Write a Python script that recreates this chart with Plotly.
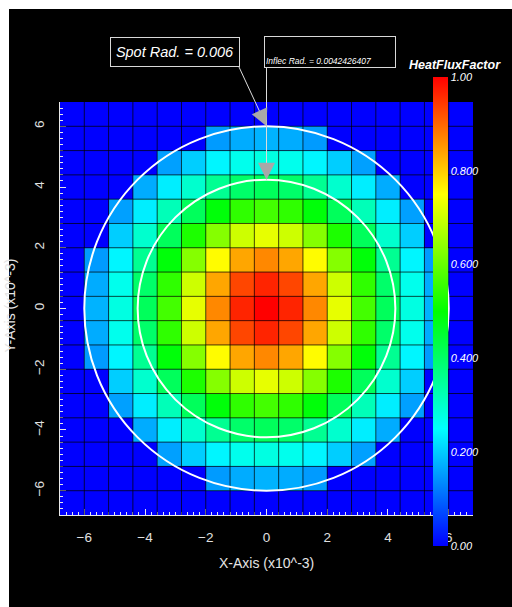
import plotly.graph_objects as go

# ---------------- data ----------------
x_centers = [-6.4, -5.6, -4.8, -4.0, -3.2, -2.4, -1.6, -0.8, 0.0, 0.8, 1.6, 2.4, 3.2, 4.0, 4.8, 5.6, 6.4]
y_centers = [-6.4, -5.6, -4.8, -4.0, -3.2, -2.4, -1.6, -0.8, 0.0, 0.8, 1.6, 2.4, 3.2, 4.0, 4.8, 5.6, 6.4]

row_0 = [0, 0.175, 0.278, 0.411, 0.566, 0.726, 0.867, 0.965, 1.000, 0.965, 0.867, 0.726, 0.566, 0.411, 0.278, 0.175, 0]
row_1 = [0, 0.169, 0.268, 0.397, 0.546, 0.701, 0.837, 0.931, 0.965, 0.931, 0.837, 0.701, 0.546, 0.397, 0.268, 0.169, 0]
row_2 = [0, 0.152, 0.241, 0.357, 0.491, 0.630, 0.753, 0.837, 0.867, 0.837, 0.753, 0.630, 0.491, 0.357, 0.241, 0.152, 0]
row_3 = [0, 0, 0.202, 0.298, 0.411, 0.527, 0.630, 0.701, 0.726, 0.701, 0.630, 0.527, 0.411, 0.298, 0.202, 0, 0]
row_4 = [0, 0, 0.157, 0.233, 0.320, 0.411, 0.491, 0.546, 0.566, 0.546, 0.491, 0.411, 0.320, 0.233, 0.157, 0, 0]
row_5 = [0, 0, 0, 0.169, 0.233, 0.298, 0.357, 0.397, 0.411, 0.397, 0.357, 0.298, 0.233, 0.169, 0, 0, 0]
row_6 = [0, 0, 0, 0, 0.157, 0.202, 0.241, 0.268, 0.278, 0.268, 0.241, 0.202, 0.157, 0, 0, 0, 0]
row_7 = [0, 0, 0, 0, 0, 0, 0.152, 0.169, 0.175, 0.169, 0.152, 0, 0, 0, 0, 0, 0]
row_8 = [0, 0, 0, 0, 0, 0, 0, 0, 0, 0, 0, 0, 0, 0, 0, 0, 0]

# rows listed bottom (y=-6.4) to top (y=6.4)
z_rows = [row_8, row_7, row_6, row_5, row_4, row_3, row_2, row_1, row_0,
          row_1, row_2, row_3, row_4, row_5, row_6, row_7, row_8]

cbar_tickvals = [0.0, 0.2, 0.4, 0.6, 0.8, 1.0]
cbar_ticktext = ["0.00", "0.200", "0.400", "0.600", "0.800", "1.00"]

spot_rad = 0.006
inflec_rad = 0.0042426407
axis_scale = 1e3  # axes are in x10^-3

# ---------------- layout geometry ----------------
W, H = 512, 607
L, R, T, B = 60, 39, 102, 92
PW, PH = W - L - R, H - T - B
x_range = [-6.8, 6.8]
y_range = [-6.8, 6.8]

FONT = "Liberation Sans, Arial, Helvetica, sans-serif"


def pxx(px):
    return (px - L) / PW


def pxy(py):
    return (H - B - py) / PH


def dx2px(v):
    return L + (v - x_range[0]) / (x_range[1] - x_range[0]) * PW


def dy2px(v):
    return H - B - (v - y_range[0]) / (y_range[1] - y_range[0]) * PH


colorscale = [
    [0.0, "rgb(0,0,255)"],
    [0.25, "rgb(0,255,255)"],
    [0.5, "rgb(0,255,0)"],
    [0.75, "rgb(255,255,0)"],
    [1.0, "rgb(255,0,0)"],
]

fig = go.Figure()
fig.add_trace(go.Heatmap(
    x=x_centers, y=y_centers, z=z_rows,
    zmin=0, zmax=1, colorscale=colorscale,
    hoverinfo="skip",
    colorbar=dict(
        x=pxx(433), xanchor="left", y=pxy(311.5), yanchor="middle",
        len=469, lenmode="pixels", thickness=15, thicknessmode="pixels",
        outlinewidth=0, xpad=0, ypad=0,
        tickvals=cbar_tickvals, ticktext=cbar_ticktext, ticks="",
        tickfont=dict(family=FONT, size=11, color="white", style="italic"),
    ),
))

sr = spot_rad * axis_scale
ir = inflec_rad * axis_scale

shapes = [
    dict(type="rect", xref="paper", yref="paper", x0=pxx(9), x1=pxx(512), y0=pxy(607), y1=pxy(9),
         fillcolor="black", line=dict(width=0), layer="below"),
]

# cell borders (midpoints between cell centres)
grid_col = "rgba(0,0,0,0.72)"
x_edges = [(a + b) / 2 for a, b in zip(x_centers[:-1], x_centers[1:])]
y_edges = [(a + b) / 2 for a, b in zip(y_centers[:-1], y_centers[1:])]
for xe in x_edges:
    shapes.append(dict(type="line", xref="x", yref="y", x0=xe, x1=xe, y0=y_range[0], y1=y_range[1],
                       line=dict(color=grid_col, width=1), layer="above"))
for ye in y_edges:
    shapes.append(dict(type="line", xref="x", yref="y", x0=x_range[0], x1=x_range[1], y0=ye, y1=ye,
                       line=dict(color=grid_col, width=1), layer="above"))

shapes += [
    dict(type="circle", xref="x", yref="y", x0=-sr, x1=sr, y0=-sr, y1=sr,
         line=dict(color="white", width=2), layer="above"),
    dict(type="circle", xref="x", yref="y", x0=-ir, x1=ir, y0=-ir, y1=ir,
         line=dict(color="white", width=2), layer="above"),
    # leader lines of the labels
    dict(type="line", xref="paper", yref="paper", x0=pxx(239), y0=pxy(67), x1=pxx(dx2px(0)), y1=pxy(dy2px(sr)),
         line=dict(color="#dcdcdc", width=1), layer="above"),
    dict(type="line", xref="paper", yref="paper", x0=pxx(dx2px(0)), y0=pxy(37), x1=pxx(dx2px(0)), y1=pxy(dy2px(ir)),
         line=dict(color="#dcdcdc", width=1), layer="above"),
]

annotations = [
    dict(text="Spot Rad. = 0.006", xref="paper", yref="paper", x=pxx(175), y=pxy(52),
         xanchor="center", yanchor="middle", showarrow=False, width=128, height=28,
         bordercolor="#d8d8d8", borderwidth=1, borderpad=0, bgcolor="black",
         font=dict(family=FONT, size=14.5, color="white", style="italic")),
    dict(text="Inflec Rad. = 0.0042426407", xref="paper", yref="paper", x=pxx(330), y=pxy(52),
         xanchor="center", yanchor="middle", showarrow=False, width=128, height=28,
         align="left", valign="bottom",
         bordercolor="#d8d8d8", borderwidth=1, borderpad=1, bgcolor="black",
         font=dict(family=FONT, size=8.5, color="white", style="italic")),
    dict(text="HeatFluxFactor", xref="paper", yref="paper", x=pxx(455), y=pxy(65),
         xanchor="center", yanchor="middle", showarrow=False,
         font=dict(family=FONT, size=12.5, color="white", style="italic", weight="bold")),
    dict(text="X-Axis (x10^-3)", xref="paper", yref="paper", x=pxx(266), y=pxy(563),
         xanchor="center", yanchor="middle", showarrow=False,
         font=dict(family=FONT, size=14, color="#e4e4e4")),
    dict(text="Y-Axis (x10^-3)", xref="paper", yref="paper", x=pxx(9.5), y=pxy(306),
         xanchor="center", yanchor="middle", showarrow=False, textangle=-90,
         font=dict(family=FONT, size=14, color="#e4e4e4")),
    # arrow heads
    dict(text="", x=0, y=sr, xref="x", yref="y", showarrow=True, arrowhead=2, arrowsize=3.4,
         arrowwidth=1, arrowcolor="#a8a8a8", ax=-7, ay=-15.5, standoff=0),
    dict(text="", x=0, y=ir, xref="x", yref="y", showarrow=True, arrowhead=2, arrowsize=3.4,
         arrowwidth=1, arrowcolor="#a8a8a8", ax=0, ay=-17, standoff=0),
]

axis_common = dict(
    showgrid=False, zeroline=False, showline=True, linecolor="#e8e8e8", linewidth=1,
    ticks="inside", ticklen=6, tickwidth=1, tickcolor="#e8e8e8",
    tick0=0, dtick=2,
    minor=dict(ticks="inside", ticklen=3, tickwidth=1, tickcolor="#e8e8e8", dtick=0.2, showgrid=False),
    tickfont=dict(family=FONT, size=13.5, color="#e0e0e0"),
    ticklabelstandoff=10, fixedrange=True,
)

fig.update_layout(
    width=W, height=H, margin=dict(l=L, r=R, t=T, b=B, autoexpand=False),
    paper_bgcolor="white", plot_bgcolor="black",
    xaxis=dict(range=x_range, **axis_common),
    yaxis=dict(range=y_range, tickangle=-90, **axis_common),
    shapes=shapes, annotations=annotations, showlegend=False,
)

fig.write_html("out.html")
